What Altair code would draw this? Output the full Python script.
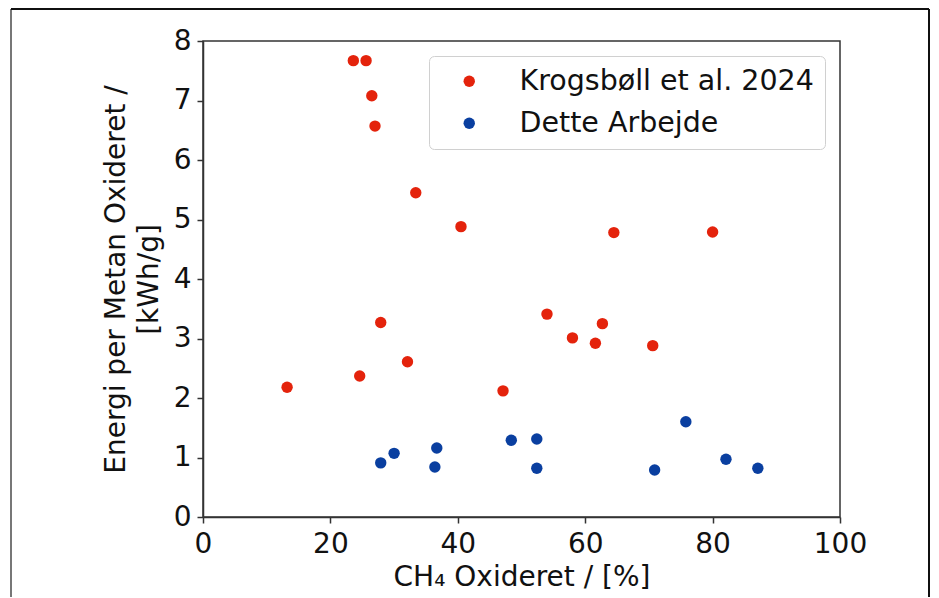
import altair as alt
import pandas as pd

# Krogsbøll et al. 2024
kro_x = [13.2, 23.6, 25.6, 26.5, 27.0, 24.6, 27.9, 32.1, 33.4, 40.5, 47.1, 54.0, 58.0, 61.6, 62.7, 64.5, 70.6, 80.0]
kro_y = [2.18, 7.67, 7.67, 7.08, 6.57, 2.37, 3.27, 2.61, 5.45, 4.88, 2.12, 3.41, 3.01, 2.92, 3.25, 4.78, 2.88, 4.79]
# Dette Arbejde
det_x = [27.9, 30.0, 36.4, 36.7, 48.4, 52.4, 52.4, 70.9, 75.8, 82.1, 87.1]
det_y = [0.91, 1.07, 0.84, 1.16, 1.29, 1.31, 0.82, 0.79, 1.60, 0.97, 0.82]

series_names = ["Krogsbøll et al. 2024", "Dette Arbejde"]
series_colors = ["#e4230c", "#0a3fa0"]

df = pd.concat([
    pd.DataFrame({"x": kro_x, "y": kro_y, "serie": series_names[0]}),
    pd.DataFrame({"x": det_x, "y": det_y, "serie": series_names[1]}),
])

FONT = "DejaVu Sans"

points = alt.Chart(df).mark_circle(size=130, opacity=1).encode(
    x=alt.X("x:Q",
            scale=alt.Scale(domain=[0, 100], nice=False, zero=False),
            axis=alt.Axis(values=[0, 20, 40, 60, 80, 100], title="CH₄ Oxideret / [%]",
                          grid=False, tickSize=6, labelPadding=7, titlePadding=5,
                          labelFlush=False)),
    y=alt.Y("y:Q",
            scale=alt.Scale(domain=[0, 8], nice=False),
            axis=alt.Axis(values=[0, 1, 2, 3, 4, 5, 6, 7, 8],
                          title=["Energi per Metan Oxideret /", "[kWh/g]"],
                          grid=False, tickSize=6, labelPadding=6, titlePadding=10,
                          titleLineHeight=33, labelFlush=False)),
    color=alt.Color("serie:N",
                    scale=alt.Scale(domain=series_names, range=series_colors),
                    legend=alt.Legend(title=None, orient="none", legendX=226, legendY=15,
                                      symbolSize=130, symbolType="circle",
                                      labelFontSize=28.5, labelFont=FONT, labelColor="#111",
                                      labelLimit=500,
                                      padding=11, rowPadding=13, symbolOffset=15,
                                      labelOffset=36, strokeColor="#d0d0d0",
                                      fillColor="white", cornerRadius=5)),
)

# outer figure frame (left, top and right edges; bottom edge lies below the window)
frame_left = alt.Chart(df).mark_rule(color="#777", strokeWidth=1.5).encode(
    x=alt.value(-192), y=alt.value(-32), y2=alt.value(556)
)
frame_top = alt.Chart(df).mark_rule(color="#111", strokeWidth=1.5).encode(
    x=alt.value(-192), x2=alt.value(726), y=alt.value(-32)
)
frame_right = alt.Chart(df).mark_rule(color="#111", strokeWidth=1.5).encode(
    x=alt.value(726), y=alt.value(-32), y2=alt.value(556)
)

chart = alt.layer(points, frame_left, frame_top, frame_right).properties(
    width=637, height=476, padding={"left": 2, "top": 0, "right": 0, "bottom": 0},
    background="white"
).configure_view(
    stroke="#333", strokeWidth=1.5
).configure_axis(
    labelFont=FONT, titleFont=FONT, labelFontSize=28, titleFontSize=28,
    labelColor="#111", titleColor="#111", titleFontWeight="normal",
    domainColor="#333", tickColor="#333", domainWidth=1.5, tickWidth=1.5,
)

chart.save("out.html", embed_options={"renderer": "svg", "actions": False})
